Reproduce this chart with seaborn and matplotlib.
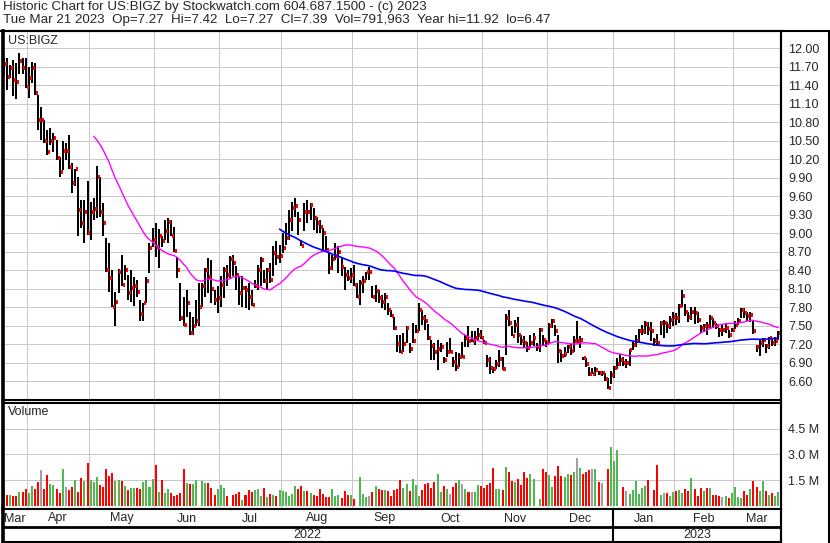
import numpy as np
import pandas as pd
import seaborn as sns
import matplotlib.pyplot as plt
from matplotlib.lines import Line2D

# trading days on the chart (US market holidays taken out)
start_date = "2022-03-22"
end_date = "2023-03-21"
holidays = ["2022-04-15", "2022-05-30", "2022-06-20", "2022-07-04", "2022-09-05",
            "2022-11-24", "2022-12-26", "2023-01-02", "2023-01-16", "2023-02-20"]

# daily close / high / low
close = [11.74, 11.54, 11.68, 11.49, 11.46, 11.80, 11.68, 11.38, 11.51, 11.68, 11.27, 10.83, 10.83, 10.50, 10.31,
         10.49, 10.54, 10.22, 10.00, 10.33, 10.33, 10.08, 9.82, 10.05, 9.38, 9.16, 9.35, 9.01, 9.35, 9.39,
         9.92, 9.35, 9.16, 8.40, 8.27, 7.81, 7.88, 8.38, 8.16, 8.40, 8.04, 8.12, 8.15, 8.05, 7.69,
         7.87, 8.23, 8.76, 8.89, 8.77, 8.95, 8.88, 9.04, 9.18, 8.96, 8.72, 8.40, 7.62, 7.52, 7.87,
         7.38, 7.50,
         7.57, 7.81, 8.15, 8.41, 8.29, 8.10, 7.92, 7.95, 8.16, 8.41, 8.33, 8.59, 8.52, 8.33, 8.04,
         8.11, 8.08, 7.97, 7.84, 8.15, 8.41, 8.56, 8.23, 8.41, 8.24, 8.68, 8.62, 8.63, 8.76, 8.93,
         9.21, 9.41, 9.44, 9.22, 8.80, 9.35, 9.34, 9.46, 9.24, 9.17, 9.11, 9.01, 8.73, 8.43, 8.59,
         8.63, 8.69, 8.46, 8.33, 8.28, 8.33, 8.16, 7.96, 8.19, 8.22, 8.37, 8.37, 7.96, 8.06, 7.95,
         7.89, 7.96,
         7.76, 7.66, 7.46, 7.21, 7.07, 7.21, 7.46, 7.13, 7.26, 7.42, 7.75, 7.62, 7.57, 7.31, 7.18,
         7.08, 7.13, 7.16, 6.94, 7.08, 7.08, 6.92, 6.84, 7.00, 7.00, 7.31, 7.26, 7.26, 7.30, 7.35,
         7.30, 7.22, 6.95, 6.82, 6.80, 6.88, 6.96, 6.80, 7.63, 7.55, 7.34, 7.52, 7.35, 7.26, 7.22,
         7.14, 7.22, 7.30, 7.16, 7.43, 7.27, 7.22, 7.50, 7.57, 7.42, 7.09, 7.01, 7.04, 7.15, 7.09,
         7.26, 7.26, 7.27, 6.97, 6.88, 6.72, 6.72, 6.79, 6.73, 6.73, 6.63,
         6.49, 6.71, 6.81, 6.88, 6.95, 6.89, 6.89, 7.10, 7.19, 7.25, 7.41, 7.42, 7.53, 7.45, 7.41,
         7.25, 7.22, 7.54, 7.54, 7.50, 7.60, 7.65, 7.62, 7.82, 7.99, 7.73, 7.65, 7.72, 7.70, 7.60,
         7.46, 7.50, 7.49, 7.62, 7.54, 7.49, 7.43, 7.43, 7.46, 7.35, 7.43, 7.52, 7.57, 7.75, 7.70,
         7.66, 7.68, 7.42, 7.16, 7.22, 7.27, 7.18, 7.30, 7.22, 7.25, 7.39]

high = [11.84, 11.84, 11.73, 11.81, 11.76, 11.92, 11.84, 11.84, 11.70, 11.78, 11.76, 11.24, 11.05, 10.84, 10.68,
        10.70, 10.62, 10.51, 10.24, 10.49, 10.46, 10.60, 10.14, 10.05, 9.92, 9.54, 9.54, 9.84, 9.51, 9.57,
        10.09, 9.92, 9.49, 8.92, 8.84, 8.41, 8.05, 8.42, 8.65, 8.49, 8.32, 8.41, 8.29, 8.24, 7.92,
        7.87, 8.29, 8.84, 9.09, 9.17, 9.07, 8.95, 9.22, 9.24, 9.22, 9.11, 8.62, 8.19, 7.97, 8.08,
        7.73, 7.65,
        7.92, 8.19, 8.19, 8.43, 8.60, 8.57, 8.08, 8.14, 8.30, 8.46, 8.49, 8.63, 8.65, 8.47, 8.30,
        8.30, 8.14, 8.19, 8.08, 8.24, 8.49, 8.62, 8.41, 8.43, 8.52, 8.79, 8.87, 8.81, 9.00, 9.16,
        9.38, 9.51, 9.57, 9.35, 8.89, 9.49, 9.54, 9.49, 9.41, 9.27, 9.22, 9.08, 8.95, 8.70, 8.65,
        8.84, 8.79, 8.62, 8.46, 8.41, 8.43, 8.49, 8.19, 8.24, 8.30, 8.38, 8.46, 8.14, 8.16, 8.08,
        8.00, 8.03,
        7.87, 7.76, 7.65, 7.35, 7.35, 7.38, 7.49, 7.22, 7.54, 7.52, 7.87, 7.76, 7.68, 7.53, 7.27,
        7.22, 7.27, 7.22, 7.00, 7.23, 7.30, 7.00, 7.08, 7.06, 7.24, 7.35, 7.49, 7.41, 7.41, 7.46,
        7.43, 7.27, 7.03, 7.00, 6.84, 6.95, 7.11, 7.00, 7.69, 7.76, 7.49, 7.60, 7.65, 7.35, 7.33,
        7.24, 7.35, 7.38, 7.22, 7.46, 7.35, 7.27, 7.54, 7.61, 7.52, 7.35, 7.11, 7.16, 7.19, 7.20,
        7.33, 7.57, 7.33, 7.00, 6.97, 6.84, 6.81, 6.84, 6.76, 6.76, 6.73,
        6.66, 6.76, 6.85, 6.98, 7.04, 7.00, 6.96, 7.13, 7.24, 7.35, 7.45, 7.51, 7.58, 7.56, 7.56,
        7.30, 7.36, 7.58, 7.60, 7.56, 7.66, 7.73, 7.70, 7.86, 8.08, 7.86, 7.73, 7.81, 7.80, 7.73,
        7.51, 7.53, 7.56, 7.68, 7.63, 7.54, 7.46, 7.51, 7.53, 7.43, 7.47, 7.57, 7.63, 7.79, 7.79,
        7.73, 7.73, 7.59, 7.19, 7.27, 7.30, 7.21, 7.32, 7.30, 7.32, 7.42]

low = [11.57, 11.32, 11.51, 11.22, 11.17, 11.59, 11.59, 11.35, 11.20, 11.43, 11.24, 10.68, 10.51, 10.46, 10.27,
       10.43, 10.32, 10.19, 9.92, 10.03, 10.19, 10.05, 9.66, 9.76, 8.95, 9.08, 8.84, 8.97, 8.89, 9.22,
       9.24, 9.27, 8.95, 8.38, 8.05, 7.81, 7.49, 8.03, 8.15, 8.24, 7.92, 7.89, 7.82, 7.97, 7.57,
       7.57, 7.87, 8.36, 8.78, 8.62, 8.43, 8.78, 8.89, 8.84, 8.95, 8.70, 8.27, 7.57, 7.49, 7.65,
       7.35, 7.35,
       7.49, 7.49, 7.81, 7.97, 8.03, 7.87, 7.84, 7.70, 7.81, 7.95, 8.14, 8.27, 8.30, 8.08, 7.84,
       7.81, 7.79, 7.76, 7.82, 8.11, 8.08, 8.14, 8.19, 8.08, 8.19, 8.30, 8.49, 8.52, 8.68, 8.81,
       8.89, 9.03, 9.27, 8.97, 8.79, 9.03, 9.16, 9.22, 9.06, 9.00, 9.00, 8.73, 8.70, 8.34, 8.41,
       8.57, 8.35, 8.30, 8.08, 8.22, 8.19, 8.14, 7.95, 7.84, 8.03, 8.24, 8.24, 7.95, 7.89, 7.87,
       7.79, 7.76,
       7.68, 7.65, 7.43, 7.07, 7.06, 7.08, 7.22, 7.06, 7.22, 7.38, 7.41, 7.52, 7.43, 7.27, 6.95,
       6.95, 6.79, 7.07, 6.89, 6.99, 7.06, 6.84, 6.76, 6.84, 6.97, 7.16, 7.16, 7.24, 7.19, 7.27,
       7.28, 7.20, 6.84, 6.72, 6.73, 6.80, 6.84, 6.79, 7.03, 7.49, 7.33, 7.38, 7.22, 7.19, 7.14,
       7.08, 7.16, 7.17, 7.09, 7.08, 7.19, 7.16, 7.22, 7.46, 7.33, 6.89, 6.91, 6.99, 7.06, 7.03,
       7.08, 7.22, 7.14, 6.95, 6.84, 6.69, 6.72, 6.68, 6.70, 6.68, 6.60,
       6.47, 6.56, 6.66, 6.80, 6.85, 6.85, 6.82, 6.85, 7.10, 7.15, 7.23, 7.35, 7.37, 7.35, 7.26,
       7.18, 7.18, 7.35, 7.30, 7.38, 7.45, 7.50, 7.52, 7.54, 7.81, 7.66, 7.56, 7.60, 7.53, 7.55,
       7.38, 7.40, 7.35, 7.46, 7.46, 7.45, 7.32, 7.33, 7.38, 7.30, 7.40, 7.45, 7.51, 7.63, 7.63,
       7.58, 7.56, 7.36, 7.08, 7.01, 7.15, 7.06, 7.12, 7.18, 7.18, 7.27]

# daily volume in millions of shares
volume_m = [1.44, 0.63, 0.63, 0.57, 0.57, 0.78, 0.80, 0.96, 0.74, 1.13, 0.98, 1.38, 2.08, 0.98, 1.79,
            1.27, 1.21, 0.98, 0.74, 2.14, 1.09, 0.92, 1.09, 1.50, 0.80, 1.62, 1.44, 2.49, 1.50, 1.38,
            1.68, 1.21, 1.09, 2.14, 1.73, 1.91, 1.44, 1.50, 1.44, 1.15, 0.92, 1.03, 1.03, 1.03, 0.98,
            1.38, 1.50, 1.09, 1.56, 2.38, 0.80, 1.50, 0.74, 0.98, 0.74, 0.57, 0.63, 0.74, 2.14, 1.33,
            1.27, 1.27, 1.50, 0.00, 1.44, 1.33, 1.33, 1.03, 0.63, 0.98, 1.21, 1.03, 0.57, 0.00, 0.63,
            0.68, 0.80, 0.33, 0.63, 0.92, 0.80, 0.92, 0.98, 0.57, 1.03, 0.51, 0.68, 0.63, 0.57, 0.92,
            0.86, 0.80, 0.57, 0.68, 1.15, 0.98, 1.15, 0.86, 0.86, 0.74, 0.63, 0.57, 0.98, 0.68, 0.51,
            0.51, 0.98, 0.57, 0.64, 0.45, 0.86, 0.63, 0.63, 0.39, 0.00, 1.68, 0.68, 0.51, 0.57, 0.80,
            1.15, 0.98, 0.92, 0.92, 0.86, 0.57, 0.92, 0.98, 1.50, 1.03, 1.27, 0.86, 1.56,
            1.21, 0.57, 0.92, 1.27, 1.33, 1.03, 1.38, 1.85, 0.80, 1.15, 0.98, 0.68, 1.09, 1.33, 1.50,
            1.27, 0.98, 0.80, 0.80, 0.80, 1.21, 1.15, 1.03, 1.21, 1.33, 2.20, 0.98, 0.98, 0.92, 2.26,
            1.97, 1.44, 1.38, 1.56, 1.21, 1.97, 1.62, 1.85, 1.56, 0.00, 0.39, 2.14, 1.97, 1.79, 1.09,
            1.73, 2.32, 1.73, 1.68, 1.85, 1.79, 1.97, 2.78, 2.20, 1.85, 1.97, 2.08, 2.14, 2.14, 1.38,
            1.33, 0.00, 2.14, 3.43, 2.61, 3.25, 0.00, 1.09, 0.86, 0.68, 0.92, 1.44, 0.68, 1.03, 1.15,
            1.50, 0.00, 0.92, 2.38, 0.63, 0.74, 0.74, 0.57, 0.80, 0.86, 0.92, 0.74, 0.98, 0.86, 1.62,
            0.98, 0.57, 1.03, 0.86, 1.03, 1.03, 0.63, 0.63, 0.57, 0.51, 0.57, 0.45, 0.74, 1.09, 0.51,
            0.45, 0.86, 0.63, 0.98, 1.44, 1.09, 0.86, 1.44, 0.86, 0.63, 0.74, 0.57, 0.79]

price_ticks = [6.60, 6.90, 7.20, 7.50, 7.80, 8.10, 8.40, 8.70, 9.00, 9.30, 9.60, 9.90,
               10.20, 10.50, 10.80, 11.10, 11.40, 11.70, 12.00]
vol_ticks = [1.5, 3.0, 4.5]
vol_tick_labels = ["1.5 M", "3.0 M", "4.5 M"]

header1 = "Historic Chart for US:BIGZ by Stockwatch.com 604.687.1500 - (c) 2023"
header2 = "Tue Mar 21 2023  Op=7.27  Hi=7.42  Lo=7.27  Cl=7.39  Vol=791,963  Year hi=11.92  lo=6.47"

days = pd.bdate_range(start_date, end_date)
days = days[~days.isin(pd.to_datetime(holidays))]

df = pd.DataFrame({"date": days, "close": close, "high": high, "low": low,
                   "volume": np.array(volume_m) * 1e6})
df["i"] = np.arange(len(df))
chg = df["close"].diff()
df["dir"] = np.where(chg > 0, "up", np.where(chg < 0, "down", "flat"))
df["ma30"] = df["close"].rolling(30).mean()
df["ma90"] = df["close"].rolling(90).mean()

# month / year boundaries (between bars)
mkey = df["date"].dt.to_period("M")
month_first = df.groupby(mkey)["i"].min().values
month_names = [p.strftime("%b") for p in mkey.unique()]
bounds = month_first[1:] - 0.5
year_first = df.groupby(df["date"].dt.year)["i"].min().values
year_bounds = year_first[1:] - 0.5
years = sorted(df["date"].dt.year.unique())

sns.set_style("white")
plt.rcParams["font.family"] = ["Liberation Sans", "DejaVu Sans"]

W, H = 830, 543
fig = plt.figure(figsize=(8.3, 5.43), dpi=100)


def box(x0, y0, x1, y1):
    return [x0 / W, 1 - y1 / H, (x1 - x0) / W, (y1 - y0) / H]


axp = fig.add_axes(box(3, 31, 781, 400))
axv = fig.add_axes(box(3, 403, 781, 509))
axd = fig.add_axes(box(3, 509, 781, 542))

xlim = (-0.3, len(df) - 0.1)
grid_col = "#c8c8c8"

# ---- price panel
axp.vlines(df["i"], df["low"], df["high"], color="black", lw=1.4, zorder=2, antialiased=False)
axp.hlines(df["close"], df["i"] + 0.3, df["i"] + 0.95, color="red", lw=1.6, zorder=2, antialiased=False)
sns.lineplot(data=df.dropna(subset=["ma30"]), x="i", y="ma30", color="#ff00ff", lw=1.0, ax=axp, zorder=3)
sns.lineplot(data=df.dropna(subset=["ma90"]), x="i", y="ma90", color="#0000ff", lw=1.2, ax=axp, zorder=3)
axp.set_xlim(*xlim)
axp.set_ylim(6.297, 12.28)
axp.set_yticks(price_ticks)
axp.set_yticklabels([f"{t:.2f}" for t in price_ticks])
axp.set_xticks(bounds)
axp.set_xticklabels([])
axp.text(5 / 778, 1 - 4 / 369, "US:BIGZ", transform=axp.transAxes, va="top", ha="left", fontsize=9)

# ---- volume panel
sns.barplot(data=df, x="i", y="volume", hue="dir", native_scale=True, dodge=False,
            palette={"up": "#50b850", "down": "#ff0000", "flat": "#a0a0a0"},
            width=0.65, saturation=1, errorbar=None, legend=False, ax=axv, zorder=2,
            linewidth=0, antialiased=False)
axv.set_xlim(*xlim)
axv.set_ylim(-0.19e6, 6.0e6)
axv.set_yticks([v * 1e6 for v in vol_ticks])
axv.set_yticklabels(vol_tick_labels)
axv.set_xticks(bounds)
axv.set_xticklabels([])
axv.text(5 / 778, 1 - 3 / 106, "Volume", transform=axv.transAxes, va="top", ha="left", fontsize=9)

for ax in (axp, axv):
    ax.set_xlabel("")
    ax.set_ylabel("")
    ax.yaxis.tick_right()
    ax.tick_params(axis="both", length=0, labelsize=9, pad=5)
    ax.grid(True, color=grid_col, lw=0.6, zorder=0, antialiased=False)
    ax.set_axisbelow(True)
    for side, sp in ax.spines.items():
        sp.set_color("black")
        sp.set_linewidth(1.5)
    ax.spines["left"].set_linewidth(2.6)

# ---- date strip
axd.set_xlim(*xlim)
axd.set_ylim(542, 509)
axd.set_xticks([])
axd.set_yticks([])
for side, sp in axd.spines.items():
    sp.set_color("black")
    sp.set_linewidth(1.5)
axd.spines["left"].set_linewidth(2.6)
axd.axhline(527, color="black", lw=2)
for b in year_bounds:
    axd.axvline(b, color="black", lw=1.5)
edges = [xlim[0]] + list(bounds) + [xlim[1]]
for k, name in enumerate(month_names):
    axd.text((edges[k] + edges[k + 1]) / 2, 518.5, name, ha="center", va="center", fontsize=9)
yedges = [xlim[0]] + list(year_bounds) + [xlim[1]]
for k, yr in enumerate(years):
    axd.text((yedges[k] + yedges[k + 1]) / 2, 535, str(yr), ha="center", va="center", fontsize=9)

# header and outer frame
fig.text(3 / W, 1 - 1 / H, header1, ha="left", va="top", fontsize=9.6)
fig.text(3 / W, 1 - 14 / H, header2, ha="left", va="top", fontsize=9.6)
fig.add_artist(Line2D([0, 1], [1 - 31 / H, 1 - 31 / H], color="black", lw=1.5, transform=fig.transFigure))
fig.add_artist(Line2D([829 / W, 829 / W], [0, 1 - 31 / H], color="black", lw=1.5, transform=fig.transFigure))
fig.add_artist(Line2D([781 / W, 781 / W], [0, 1 - 31 / H], color="black", lw=1.5, transform=fig.transFigure))

fig.savefig("out.png", dpi=100)
